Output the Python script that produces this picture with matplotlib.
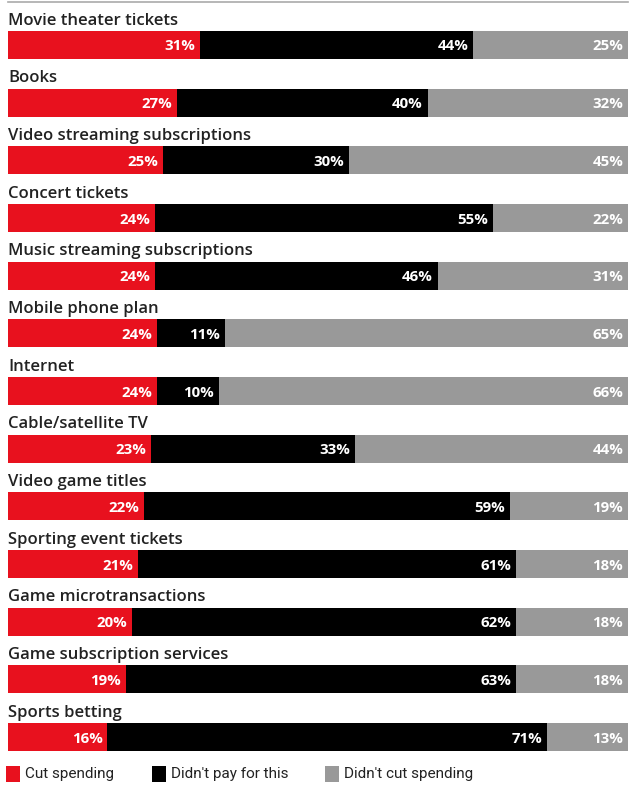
import matplotlib
matplotlib.use("Agg")
import matplotlib.pyplot as plt
from matplotlib.patches import Rectangle
from matplotlib.lines import Line2D
import numpy as np

categories = [
    "Movie theater tickets", "Books", "Video streaming subscriptions",
    "Concert tickets", "Music streaming subscriptions", "Mobile phone plan",
    "Internet", "Cable/satellite TV", "Video game titles",
    "Sporting event tickets", "Game microtransactions",
    "Game subscription services", "Sports betting",
]
cut_spending = [31, 27, 25, 24, 24, 24, 24, 23, 22, 21, 20, 19, 16]
didnt_pay = [44, 40, 30, 55, 46, 11, 10, 33, 59, 61, 62, 63, 71]
didnt_cut = [25, 32, 45, 22, 31, 65, 66, 44, 19, 18, 18, 18, 13]
series_names = ["Cut spending", "Didn't pay for this", "Didn't cut spending"]
colors = ["#E8111E", "#000000", "#999999"]

plt.rcParams['font.family'] = ['Open Sans', 'DejaVu Sans']

W, H = 629, 787
fig = plt.figure(figsize=(W / 100, H / 100), dpi=100)

pitch = 57.67
n = len(categories)
ax_h = n * pitch
top_px = 45 - pitch / 2
ax = fig.add_axes([8 / W, 1 - (top_px + ax_h) / H, 620 / W, ax_h / H])

vals = np.array([cut_spending, didnt_pay, didnt_cut], dtype=float)
totals = vals.sum(axis=0)
shares = vals / totals * 100
y = np.arange(n)
bar_h = 28 / pitch

left = np.zeros(n)
for k in range(3):
    ax.barh(y, shares[k], left=left, height=bar_h, color=colors[k], linewidth=0)
    for i in range(n):
        end = left[i] + shares[k][i]
        ax.annotate(f"{int(vals[k][i])}%", xy=(end, y[i]), xytext=(-3.4, 0),
                    textcoords="offset points", ha="right", va="center_baseline",
                    color="white", fontsize=10.8, fontweight="bold")
    left = left + shares[k]

for i, c in enumerate(categories):
    ax.annotate(c, xy=(0, y[i] - bar_h / 2), xytext=(0, 4.5),
                textcoords="offset points", ha="left", va="baseline",
                color="#222222", fontsize=12, fontweight="semibold")

ax.set_xlim(0, 100)
ax.set_ylim(n - 0.5, -0.5)
ax.axis("off")

# top rule
fig.add_artist(Line2D([8 / W, 628 / W], [1 - 1.5 / H, 1 - 1.5 / H],
                      color="#aaaaaa", linewidth=1.2))

# legend
leg_x = [6, 152, 325]
for k in range(3):
    fig.add_artist(Rectangle((leg_x[k] / W, 1 - 782 / H), 14 / W, 16 / H,
                             facecolor=colors[k], edgecolor="none",
                             transform=fig.transFigure))
    fig.text((leg_x[k] + 19) / W, 1 - 774 / H, series_names[k],
             ha="left", va="center", fontsize=11, color="#222222",
             family=['Roboto', 'DejaVu Sans'])

fig.savefig("out.png", dpi=100)
